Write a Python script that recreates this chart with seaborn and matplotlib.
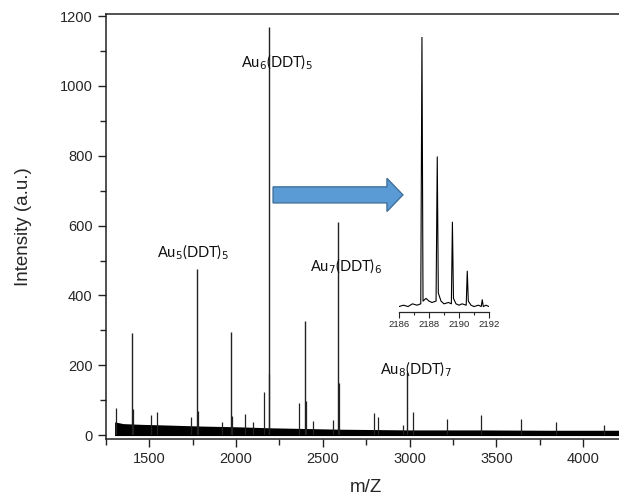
import matplotlib

matplotlib.use("Agg")

import matplotlib.pyplot as plt
import matplotlib.ticker as mticker
from matplotlib.patches import FancyArrow
import seaborn as sns

# main spectrum: strong cluster peaks
peak_mz = [1402, 1776, 1971, 2187, 2397, 2587, 2987]
peak_int = [293, 475, 295, 1170, 328, 610, 180]

# smaller peaks
small_mz = [1310, 1407, 1510, 1544, 1741, 1780, 1919, 1975, 2051, 2097, 2161, 2192,
            2363, 2401, 2443, 2558, 2592, 2795, 2818, 2962, 3019, 3215, 3411, 3641,
            3843, 4120]
small_int = [77, 75, 57, 66, 52, 70, 37, 55, 60, 37, 123, 175,
             92, 97, 40, 43, 149, 63, 52, 30, 66, 46, 57, 46,
             37, 29]

# noise floor envelope
noise_mz = [1300, 1350, 1450, 1600, 1800, 2000, 2200, 2400, 2600, 2800, 3000, 3400, 3800, 4250]
noise_top = [38, 33, 31, 29, 26, 24, 21, 19, 17, 16, 15, 15, 14, 14]

# labels
labels = ["Au$_6$(DDT)$_5$", "Au$_5$(DDT)$_5$", "Au$_7$(DDT)$_6$", "Au$_8$(DDT)$_7$"]
label_mz = [2028, 1545, 2425, 2829]
label_y = [1068, 524, 484, 189]

# inset: isotope pattern of Au6(DDT)5
ins_mz = [2186.0, 2186.3, 2186.6, 2186.9, 2187.2, 2187.45, 2187.53, 2187.6, 2187.8, 2188.0,
          2188.2, 2188.47, 2188.55, 2188.62, 2188.8, 2189.0, 2189.3, 2189.49, 2189.56, 2189.63,
          2189.8, 2190.0, 2190.2, 2190.48, 2190.55, 2190.62, 2190.8, 2191.0, 2191.3, 2191.48,
          2191.55, 2191.62, 2191.8, 2192.0]
ins_int = [0.01, 0.015, 0.01, 0.02, 0.015, 0.02, 1.0, 0.03, 0.04, 0.03,
           0.025, 0.03, 0.56, 0.06, 0.03, 0.02, 0.025, 0.02, 0.32, 0.04,
           0.02, 0.015, 0.02, 0.015, 0.14, 0.03, 0.015, 0.01, 0.015, 0.01,
           0.035, 0.01, 0.015, 0.01]

sns.set_style("ticks")
plt.rcParams["font.family"] = ["Liberation Sans", "DejaVu Sans"]

fig = plt.figure(figsize=(6.19, 4.98), dpi=100)
ax = fig.add_axes([0.1711, 0.1185, 0.8413, 0.8534])

ax.fill_between(noise_mz, 0, noise_top, color="black", linewidth=0)
ax.vlines(small_mz, 0, small_int, color="#222222", linewidth=0.9)
ax.vlines(peak_mz, 0, peak_int, color="#222222", linewidth=1.0)
ax.axhline(0, xmin=0.0167, color="black", linewidth=0.8)

ax.set_xlim(1250, 4250)
ax.set_ylim(-11, 1206)
ax.xaxis.set_major_locator(mticker.FixedLocator([1500, 2000, 2500, 3000, 3500, 4000]))
ax.xaxis.set_minor_locator(mticker.MultipleLocator(250))
ax.yaxis.set_major_locator(mticker.MultipleLocator(200))
ax.yaxis.set_minor_locator(mticker.MultipleLocator(100))
ax.tick_params(which="major", length=6, width=1, labelsize=10.5, color="#222222")
ax.tick_params(which="minor", length=4, width=1, color="#222222")
for s in ax.spines.values():
    s.set_linewidth(1.1)
    s.set_color("#222222")

ax.set_xlabel("m/Z", fontsize=13.5, labelpad=9)
ax.set_ylabel("Intensity (a.u.)", fontsize=13.5, labelpad=20)

for txt, x, y in zip(labels, label_mz, label_y):
    ax.text(x, y, txt, fontsize=10.5, va="center", ha="left",
            family=["Lato", "DejaVu Sans"], color="#111111")

ax.add_patch(FancyArrow(2213, 688, 748, 0, width=46, head_width=95,
                        head_length=92, length_includes_head=True,
                        facecolor="#5B9BD5", edgecolor="#41719C", linewidth=1))

# inset
axin = fig.add_axes([0.6446, 0.3735, 0.1454, 0.552])
sns.lineplot(x=ins_mz, y=ins_int, ax=axin, color="black", linewidth=0.8)
axin.set_xlim(2186, 2192)
axin.set_ylim(-0.01, 1.0)
axin.patch.set_alpha(0)
for side in ["left", "right", "top"]:
    axin.spines[side].set_visible(False)
axin.spines["bottom"].set_linewidth(0.9)
axin.set_yticks([])
axin.xaxis.set_major_locator(mticker.MultipleLocator(2))
axin.xaxis.set_minor_locator(mticker.MultipleLocator(1))
axin.tick_params(which="major", length=4, width=0.8, labelsize=6.8, pad=2)
axin.tick_params(which="minor", length=2.5, width=0.8)

fig.savefig("out.png", dpi=100)
